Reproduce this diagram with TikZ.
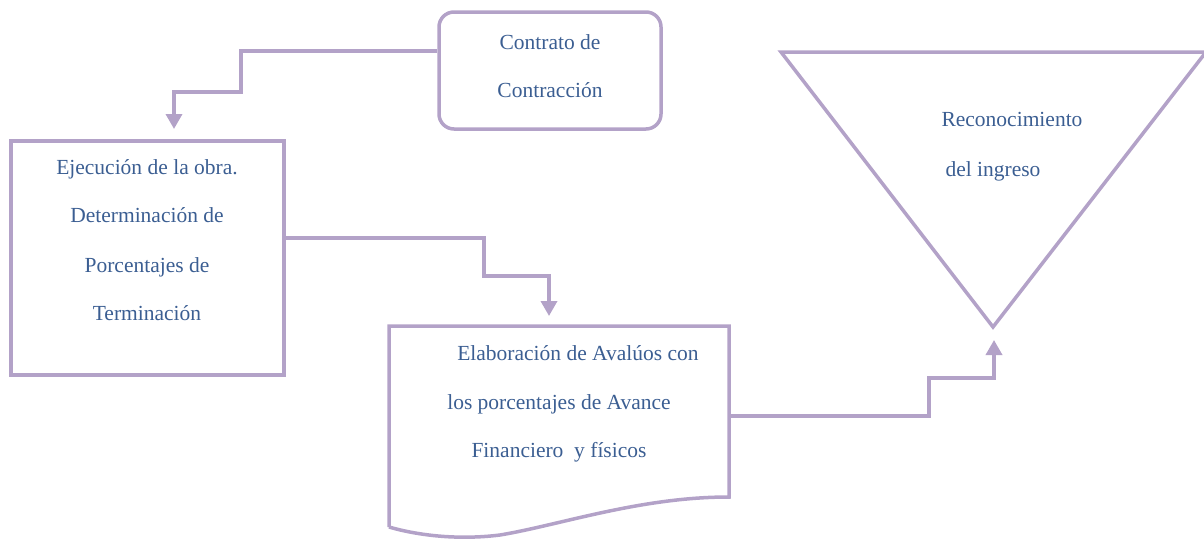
\documentclass[tikz,border=0pt]{standalone}
\usepackage{fontspec}
\setmainfont{Liberation Serif}
\newfontfamily\timesfont{Liberation Serif}
\usetikzlibrary{arrows.meta}
\definecolor{lav}{HTML}{B3A2C8}
\definecolor{txt}{HTML}{3B5E92}
\tikzset{
  shapeline/.style={draw=lav, line width=3.5pt, line join=miter},
  conn/.style={draw=lav, line width=3.5pt},
  arr/.style={conn, -{Triangle[width=16pt,length=15pt]}},
  lbl/.style={text=txt, font=\timesfont\fontsize{21.5}{24}\selectfont, inner sep=0pt, anchor=base}
}
\begin{document}
\begin{tikzpicture}[x=1pt,y=-1pt]
\useasboundingbox (0,0) rectangle (1204,538);
% shapes
\node[shapeline, rounded corners=15pt, minimum width=222pt, minimum height=117pt, inner sep=0pt] (contrato) at (550,70.5) {};
\node[shapeline, minimum width=273pt, minimum height=234pt, inner sep=0pt] (ejec) at (147.5,258) {};
\node[minimum width=340pt, minimum height=170pt, inner sep=0pt] (doc) at (559,411) {};
\draw[shapeline] (389,527) -- (389,326) -- (729,326) -- (729,497)
  .. controls (640,497) and (560,525) .. (500,535)
  .. controls (460,540) and (420,536) .. (389,527);
\coordinate (apex) at (993,327);
\draw[shapeline] (781,52) -- (1206,52) -- (apex) -- cycle;
% texts
\node[lbl] (t1) at (550,49) {Contrato de};
\node[lbl] (t2) at (550,97) {Contracción};
\node[lbl] (e1) at (147,174) {Ejecución de la obra.};
\node[lbl] (e2) at (147,222) {Determinación de};
\node[lbl] (e3) at (147,272) {Porcentajes de};
\node[lbl] (e4) at (147,320) {Terminación};
\node[lbl] (d1) at (578,360) {Elaboración de Avalúos con};
\node[lbl] (d2) at (559,409) {los porcentajes de Avance};
\node[lbl] (d3) at (559,457) {Financiero\ \ y físicos};
\node[lbl] (r1) at (1012,126) {Reconocimiento};
\node[lbl] (r2) at (993,176) {del ingreso};
% connectors
\coordinate (a1) at (174,129);
\coordinate (a2) at (549,316);
\coordinate (a3) at (994,340);
\draw[arr] (contrato.west |- 0,51) -- (241,51) -- (241,92) -- (174,92) -- (a1);
\draw[arr] (ejec.east |- 0,238) -- (484,238) -- (484,276) -- (549,276) -- (a2);
\draw[arr] (doc.east |- 0,416) -- (929,416) -- (929,378) -- (994,378) -- (a3);
\end{tikzpicture}
\end{document}
